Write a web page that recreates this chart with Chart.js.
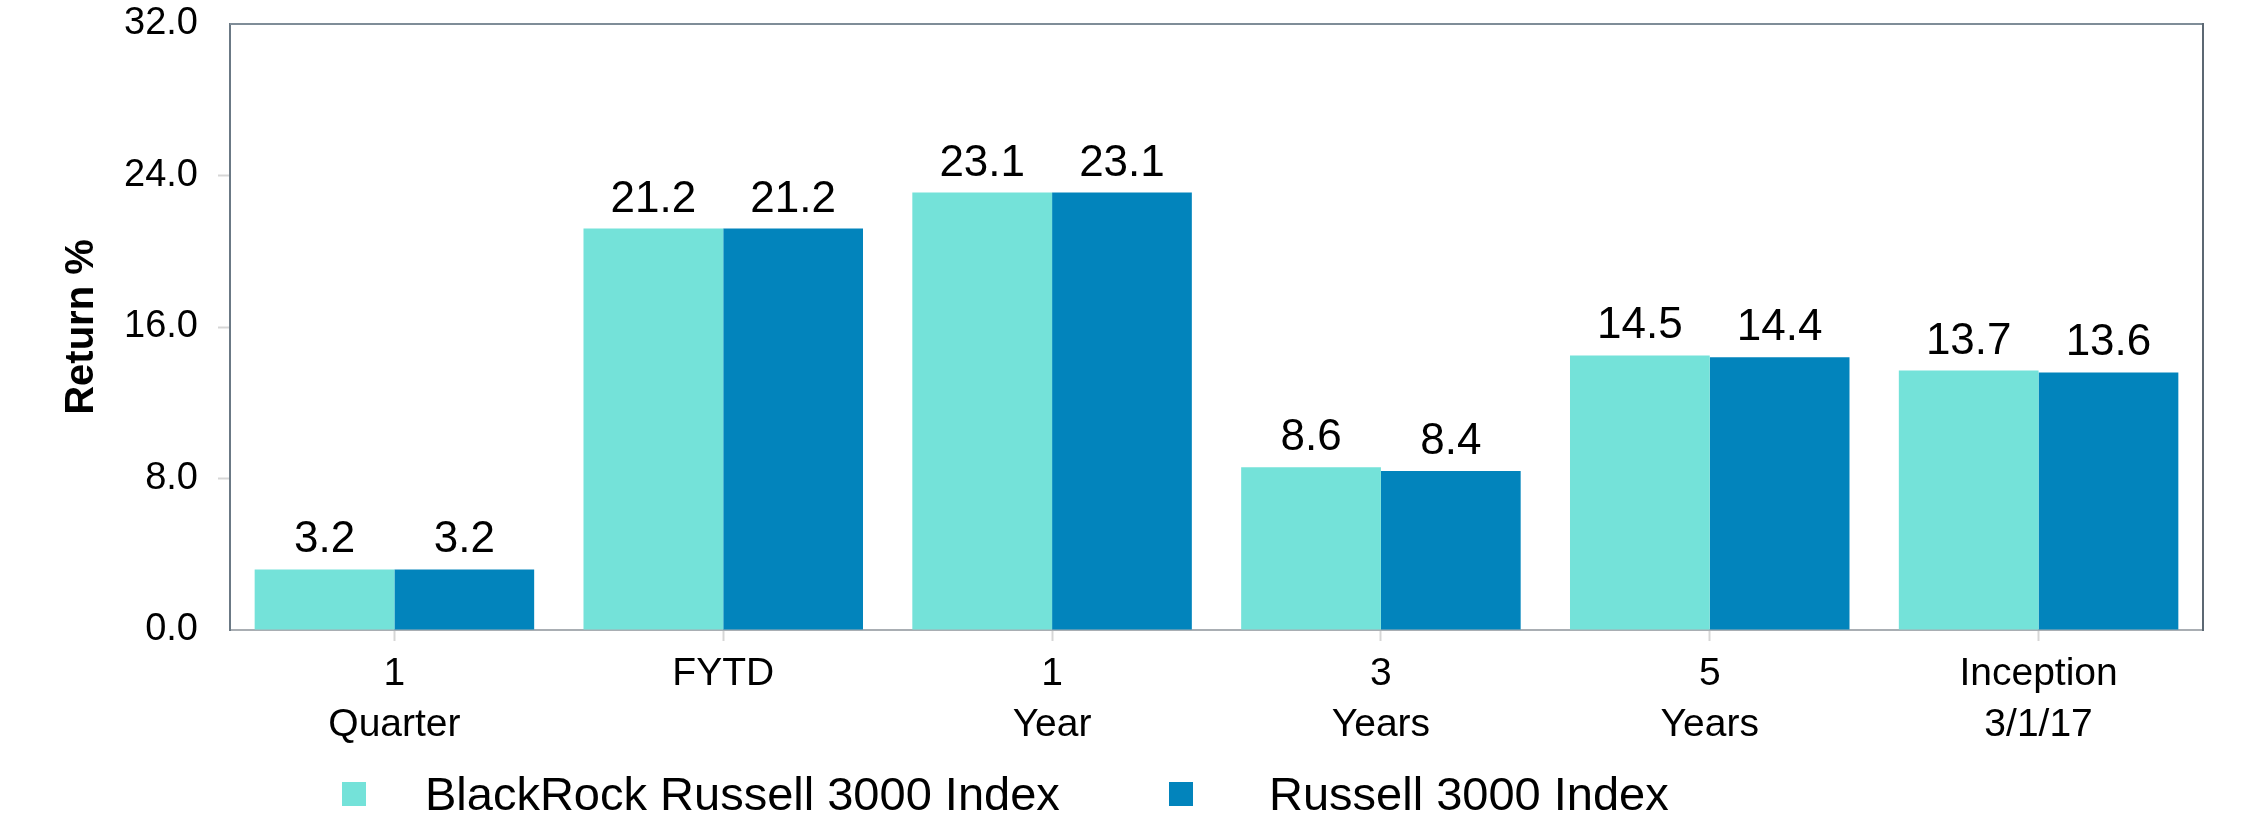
<!DOCTYPE html>
<html>
<head>
<meta charset="utf-8">
<script src="https://cdn.jsdelivr.net/npm/chart.js@4.4.1/dist/chart.umd.min.js"></script>
<style>
    html, body { margin: 0; padding: 0; background: #ffffff; }
    #returnsChart { display: block; }
</style>
</head>
<body>
<canvas id="returnsChart" width="2254" height="821"></canvas>
<script>
(function () {
    'use strict';

    var periods = [['1', 'Quarter'], ['FYTD'], ['1', 'Year'], ['3', 'Years'], ['5', 'Years'], ['Inception', '3/1/17']];
    var fundReturns = [3.2, 21.2, 23.1, 8.6, 14.5, 13.7];
    var indexReturns = [3.2, 21.2, 23.1, 8.4, 14.4, 13.6];
    var seriesNames = ['BlackRock Russell 3000 Index', 'Russell 3000 Index'];
    var seriesColors = ['#74e2d9', '#0284bc'];
    var yMin = 0, yMax = 32, yStep = 8;

    var FONT = '"Liberation Sans", Arial, Helvetica, sans-serif';

    // value labels above each bar
    var valueLabels = {
        id: 'valueLabels',
        afterDatasetsDraw: function (chart) {
            var ctx = chart.ctx;
            ctx.save();
            ctx.font = '44px ' + FONT;
            ctx.fillStyle = '#000000';
            ctx.textAlign = 'center';
            ctx.textBaseline = 'alphabetic';
            chart.data.datasets.forEach(function (ds, i) {
                chart.getDatasetMeta(i).data.forEach(function (bar, j) {
                    ctx.fillText(ds.data[j].toFixed(1), bar.x, bar.y - 17);
                });
            });
            ctx.restore();
        }
    };

    // top and right edges of the plot frame
    var plotFrame = {
        id: 'plotFrame',
        afterDatasetsDraw: function (chart) {
            var a = chart.chartArea;
            var ctx = chart.ctx;
            ctx.save();
            ctx.lineWidth = 2;
            ctx.strokeStyle = '#7f8d98';
            ctx.beginPath();
            ctx.moveTo(a.left, a.top);
            ctx.lineTo(a.right, a.top);
            ctx.stroke();
            ctx.strokeStyle = '#5c6873';
            ctx.beginPath();
            ctx.moveTo(a.right, a.top - 1);
            ctx.lineTo(a.right, a.bottom + 1);
            ctx.stroke();
            ctx.restore();
        }
    };

    // legend row under the axis labels
    var bottomLegend = {
        id: 'bottomLegend',
        afterDraw: function (chart) {
            var ctx = chart.ctx;
            var boxLeft = [342, 1169];
            var textLeft = [425, 1269];
            ctx.save();
            ctx.font = '47px ' + FONT;
            ctx.textBaseline = 'alphabetic';
            ctx.textAlign = 'left';
            chart.data.datasets.forEach(function (ds, i) {
                ctx.fillStyle = ds.backgroundColor;
                ctx.fillRect(boxLeft[i], 782, 24, 24);
                ctx.fillStyle = '#000000';
                ctx.fillText(ds.label, textLeft[i], 810);
            });
            ctx.restore();
        }
    };

    new Chart(document.getElementById('returnsChart'), {
        type: 'bar',
        data: {
            labels: periods,
            datasets: [{
                label: seriesNames[0],
                data: fundReturns,
                backgroundColor: seriesColors[0],
                categoryPercentage: 0.85,
                barPercentage: 1.0
            }, {
                label: seriesNames[1],
                data: indexReturns,
                backgroundColor: seriesColors[1],
                categoryPercentage: 0.85,
                barPercentage: 1.0
            }]
        },
        options: {
            responsive: false,
            devicePixelRatio: 1,
            animation: false,
            layout: { padding: { top: 24, right: 51, left: 0, bottom: 0 } },
            plugins: {
                legend: { display: false },
                tooltip: { enabled: false }
            },
            scales: {
                x: {
                    afterFit: function (scale) { scale.height = 191; },
                    grid: {
                        offset: false,
                        drawOnChartArea: false,
                        drawTicks: true,
                        tickLength: 11,
                        tickWidth: 2,
                        color: '#d6d6d6'
                    },
                    border: { display: true, color: '#a9aeb3', width: 2 },
                    ticks: {
                        color: '#000000',
                        padding: 8,
                        maxRotation: 0,
                        autoSkip: false,
                        font: { family: FONT, size: 39, lineHeight: 1.3 }
                    }
                },
                y: {
                    min: yMin,
                    max: yMax,
                    afterFit: function (scale) {
                        scale.width = 230;
                        scale.paddingTop = 0;
                        scale.paddingBottom = 0;
                    },
                    grid: {
                        drawOnChartArea: false,
                        drawTicks: true,
                        tickLength: 12,
                        tickWidth: 2,
                        color: function (c) {
                            if (!c.tick) return 'transparent';
                            return (c.tick.value === yMin || c.tick.value === yMax) ? 'transparent' : '#d6d6d6';
                        }
                    },
                    border: { display: true, color: '#6b7985', width: 2 },
                    ticks: {
                        stepSize: yStep,
                        color: '#000000',
                        padding: 20,
                        font: { family: FONT, size: 38, lineHeight: 1 },
                        callback: function (v) { return Number(v).toFixed(1); }
                    },
                    title: {
                        display: true,
                        text: 'Return %',
                        color: '#000000',
                        padding: { top: 58, bottom: 0 },
                        font: { family: FONT, size: 40, weight: 'bold', lineHeight: 1.2 }
                    }
                }
            }
        },
        plugins: [valueLabels, plotFrame, bottomLegend]
    });
})();
</script>
</body>
</html>
